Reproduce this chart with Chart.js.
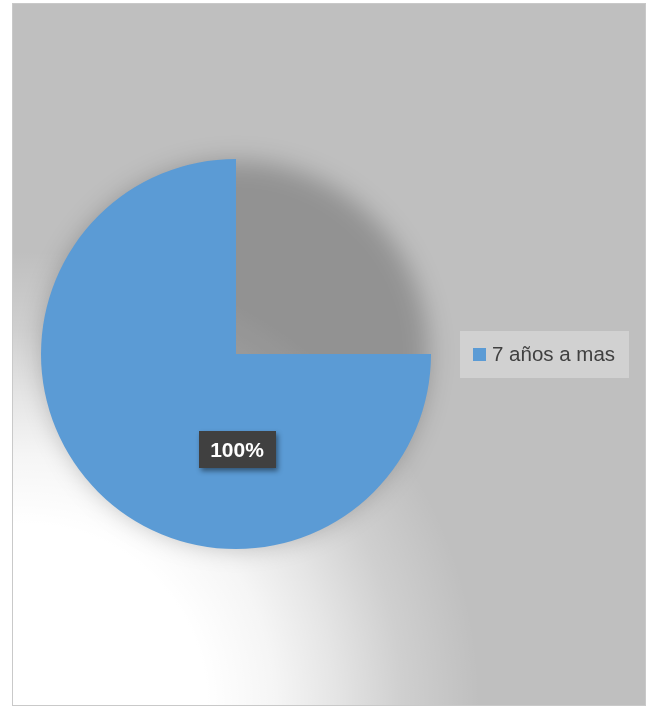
<!DOCTYPE html>
<html>
<head>
<meta charset="utf-8">
<script src="https://cdn.jsdelivr.net/npm/chart.js@4/dist/chart.umd.min.js"></script>
<style>
html,body{margin:0;padding:0;background:#ffffff;}
canvas{display:block;}
</style>
</head>
<body>
<canvas id="c" width="656" height="707"></canvas>
<script>
const categories = ['7 años a mas'];
const seriesValues = [100];
const percentLabels = ['100%'];
const sliceColors = ['#5b9bd5'];

const frame = {x0: 12, y0: 3, x1: 646, y1: 706};

const bgPlugin = {
  id: 'bg',
  beforeDraw(chart) {
    const ctx = chart.ctx;
    ctx.save();
    ctx.fillStyle = '#ffffff';
    ctx.fillRect(0, 0, chart.width, chart.height);
    ctx.fillStyle = '#bfbfbf';
    ctx.fillRect(frame.x0, frame.y0, frame.x1 - frame.x0, frame.y1 - frame.y0);
    ctx.beginPath();
    ctx.rect(frame.x0, frame.y0, frame.x1 - frame.x0, frame.y1 - frame.y0);
    ctx.clip();
    const g = ctx.createRadialGradient(25, 706, 0, 25, 706, 455);
    g.addColorStop(0, 'rgba(255,255,255,1)');
    g.addColorStop(0.4, 'rgba(255,255,255,1)');
    g.addColorStop(0.55, 'rgba(255,255,255,0.85)');
    g.addColorStop(0.68, 'rgba(255,255,255,0.6)');
    g.addColorStop(0.83, 'rgba(255,255,255,0.25)');
    g.addColorStop(1, 'rgba(255,255,255,0)');
    ctx.fillStyle = g;
    ctx.fillRect(frame.x0, frame.y0, frame.x1 - frame.x0, frame.y1 - frame.y0);
    ctx.restore();
    ctx.save();
    ctx.strokeStyle = '#c9c9c9';
    ctx.lineWidth = 1;
    ctx.strokeRect(frame.x0 + 0.5, frame.y0 + 0.5, frame.x1 - frame.x0 - 1, frame.y1 - frame.y0 - 1);
    ctx.restore();
  },
  beforeDatasetsDraw(chart) {
    const arc = chart.getDatasetMeta(0).data[0];
    if (!arc) return;
    const ctx = chart.ctx;
    ctx.save();
    ctx.beginPath();
    ctx.rect(frame.x0 + 1, frame.y0 + 1, frame.x1 - frame.x0 - 2, frame.y1 - frame.y0 - 2);
    ctx.clip();
    ctx.filter = 'blur(12px)';
    ctx.fillStyle = 'rgba(0,0,0,0.23)';
    ctx.beginPath();
    ctx.arc(arc.x, arc.y, arc.outerRadius - 2, 0, Math.PI * 2);
    ctx.fill();
    ctx.restore();
  }
};

const labelPlugin = {
  id: 'lbl',
  afterDatasetsDraw(chart) {
    const arc = chart.getDatasetMeta(0).data[0];
    if (!arc) return;
    const ctx = chart.ctx;
    const cx = arc.x + 1;
    const cy = arc.y + arc.outerRadius * 0.49;
    const w = 77, h = 37;
    ctx.save();
    ctx.shadowColor = 'rgba(0,0,0,0.45)';
    ctx.shadowBlur = 5;
    ctx.shadowOffsetX = 2;
    ctx.shadowOffsetY = 3;
    ctx.fillStyle = '#404040';
    ctx.fillRect(Math.round(cx - w / 2), Math.round(cy - h / 2), w, h);
    ctx.restore();
    ctx.save();
    ctx.fillStyle = '#ffffff';
    ctx.font = 'bold 21px "Liberation Sans", Arial, sans-serif';
    ctx.textAlign = 'center';
    ctx.textBaseline = 'middle';
    ctx.fillText(percentLabels[0], cx, cy + 2);
    ctx.restore();
  }
};

const legendPlugin = {
  id: 'customLegend',
  afterDraw(chart) {
    const ctx = chart.ctx;
    const bx = 460, by = 331, bw = 169, bh = 47;
    ctx.save();
    ctx.fillStyle = 'rgba(242,242,242,0.36)';
    ctx.fillRect(bx, by, bw, bh);
    categories.forEach((c, i) => {
      const y = by + bh / 2 + i * 30;
      ctx.fillStyle = sliceColors[i];
      ctx.fillRect(473, Math.round(y - 6.5), 13, 13);
      ctx.fillStyle = '#404040';
      ctx.font = '20.5px "Liberation Sans", Arial, sans-serif';
      ctx.textAlign = 'left';
      ctx.textBaseline = 'middle';
      ctx.fillText(c, 492, y + 1);
    });
    ctx.restore();
  }
};

new Chart(document.getElementById('c'), {
  type: 'pie',
  data: {
    labels: categories,
    datasets: [{
      data: seriesValues,
      backgroundColor: sliceColors,
      borderWidth: 0
    }]
  },
  options: {
    responsive: false,
    devicePixelRatio: 1,
    animation: false,
    rotation: 90,
    circumference: 270,
    layout: {padding: {left: 41, top: 159, right: 225, bottom: 158}},
    plugins: {
      legend: {display: false},
      tooltip: {enabled: false}
    }
  },
  plugins: [bgPlugin, labelPlugin, legendPlugin]
});
</script>
</body>
</html>
